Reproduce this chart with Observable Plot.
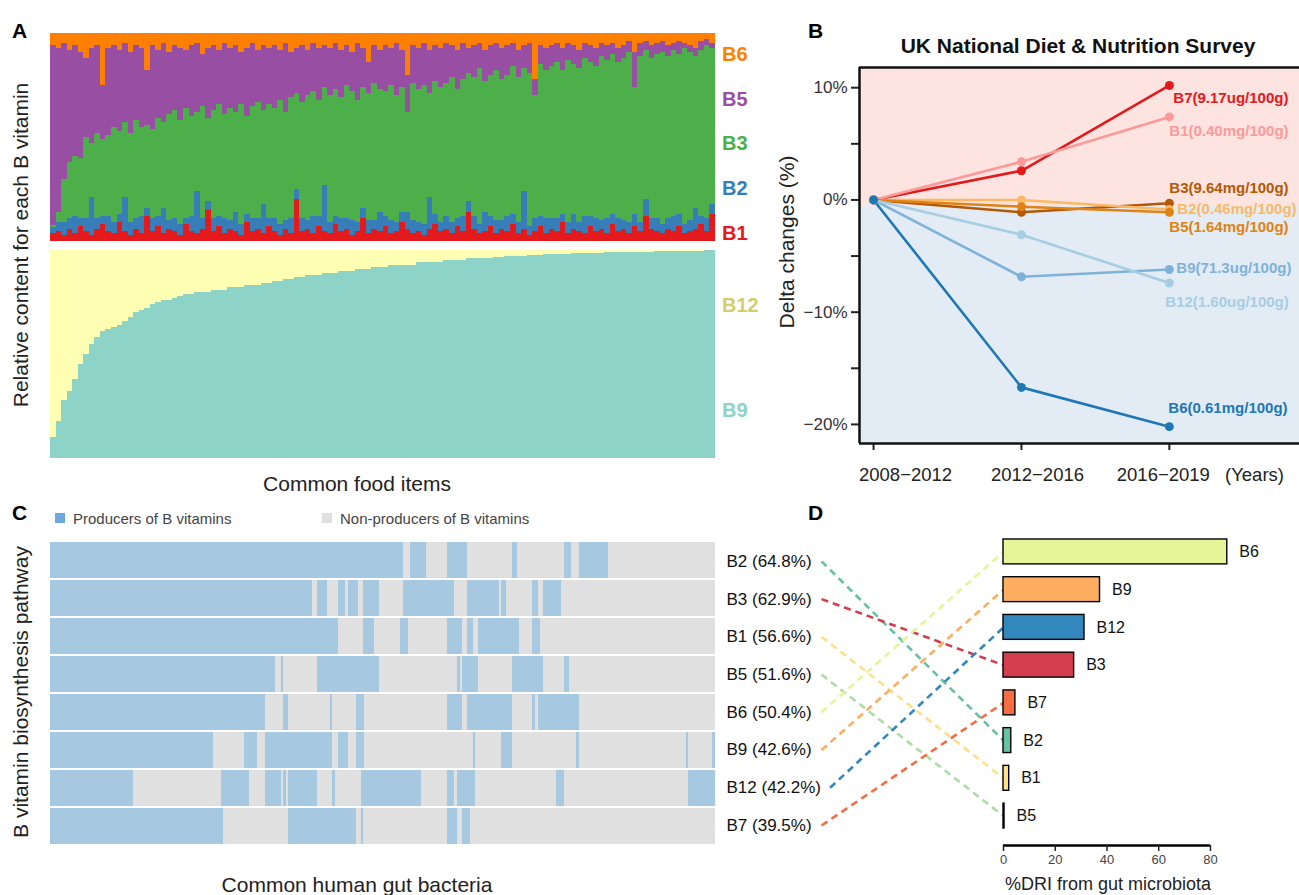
<!DOCTYPE html>
<html><head><meta charset="utf-8">
<script src="https://cdn.jsdelivr.net/npm/d3@7"></script>
<script src="https://cdn.jsdelivr.net/npm/@observablehq/plot@0.6"></script>
<style>
html,body{margin:0;padding:0;background:#fff;overflow:hidden;}
#fig{position:relative;width:1299px;height:895px;font-family:"Liberation Sans",Arial,sans-serif;color:#222;overflow:hidden;}
.t{position:absolute;white-space:nowrap;line-height:1;}
.ctr{transform:translate(-50%,-50%);}
.lft{transform:translate(0,-50%);}
.rot{transform:translate(-50%,-50%) rotate(-90deg);}
.panel{position:absolute;}
.sq{position:absolute;width:10px;height:10px;}
</style></head><body><div id="fig"></div>
<script>
// ---------------- DATA ----------------
// Panel A (top): relative content of B1, B2, B3, B5, B6 across common food items
const foodB1 = [4,5,3,6,4,7,5,3,6,8, 5,4,9,5,3,6,4,12,5,7, 4,6,5,3,8,5,4,6,15,5, 7,4,6,5,3,9,5,6,4,7, 5,3,6,4,20,5,6,4,7,5, 4,8,5,6,3,5,11,4,6,5, 7,4,5,9,6,4,5,3,6,8, 5,6,4,7,5,14,6,4,5,7, 4,6,5,8,4,6,3,5,7,4, 6,5,9,4,6,5,4,7,5,6, 4,8,5,6,4,7,5,12,6,5, 4,6,5,7,4,5,6,8,5,13];
const foodB2 = [3,4,6,5,8,4,6,18,5,4, 7,5,4,16,6,5,8,4,6,5, 12,4,6,5,3,7,20,5,4,6, 5,7,4,9,5,4,6,5,14,4, 6,5,4,7,5,6,4,8,5,22, 5,4,6,5,7,4,5,6,4,9, 5,6,4,5,8,6,4,5,15,5, 4,6,5,4,7,5,6,4,9,5, 6,4,7,5,5,18,4,6,5,7, 5,6,4,5,7,4,8,5,6,4, 7,5,6,4,5,6,4,8,5,6, 4,5,7,6,4,5,10,4,6,5];
const foodB3 = [1,5,21,27,29,29,39,26,41,37, 39,46,40,36,43,47,43,40,43,47, 41,51,52,50,53,48,38,54,40,52, 54,50,54,48,58,47,54,56,45,55, 53,60,52,58,46,56,60,60,56,47, 61,61,58,64,62,59,58,61,66,59, 60,65,61,60,48,66,64,67,50,64, 65,64,70,62,66,62,67,75,63,68, 72,68,68,71,70,59,74,59,73,71, 73,75,69,78,72,74,76,74,73,79, 76,77,75,78,82,61,80,72,77,79, 83,78,80,77,85,81,73,80,83,75];
const foodB5 = [88,79,65,54,53,51,38,46,42,26, 42,39,39,38,39,36,38,26,40,33, 38,30,31,35,28,34,33,25,34,31, 26,34,29,32,25,33,30,25,31,27, 30,24,33,22,22,27,22,23,25,20, 23,22,23,19,19,27,19,15,18,19, 22,18,25,18,18,18,20,20,21,17, 19,19,15,19,17,12,15,12,15,14, 13,15,14,11,13,11,14,8,9,11, 10,9,11,8,9,9,7,8,9,6, 7,5,7,6,5,17,6,4,6,5, 5,5,3,6,2,3,4,4,3,2];
const foodB6 = [6,7,5,8,6,9,12,7,6,25, 7,6,8,5,9,6,7,18,6,8, 5,9,6,7,8,6,5,10,7,6, 8,5,7,6,9,7,5,8,6,7, 6,8,5,9,7,6,8,5,7,6, 7,5,8,6,9,5,7,14,6,8, 6,7,5,8,20,6,7,5,8,6, 7,5,6,8,5,7,6,5,8,6, 5,7,6,5,8,6,5,22,6,7, 6,5,7,5,6,8,5,6,7,5, 6,5,7,6,4,9,5,4,6,5, 4,6,5,4,5,6,7,4,3,5];
// Panel A (bottom): relative content of B9 and B12
const foodB9 = [10,18,28,32,38,45,50,55,58,61, 62,63,64,66,68,70,71,72,74,75, 76,76,77,78,79,79,80,80,80,81, 81,81,82,82,82,83,83,83,84,84, 85,85,86,86,87,87,88,88,88,89, 89,89,90,90,90,91,91,91,92,92, 92,93,93,93,93,93,94,94,94,94, 94,95,95,95,95,96,96,96,96,96, 96.5,96.5,97,97,97,97,97.5,97.5,97.5,98, 98,98,98,98,98.5,98.5,98.5,98.5,98.5,98.5, 99,99,99,99,99,99,99,99,99,99.5, 99.5,99.5,99.5,99.5,99.5,99.5,99.5,99.5,100,100];
const foodB12 = [90,82,72,68,62,55,50,45,42,39, 38,37,36,34,32,30,29,28,26,25, 24,24,23,22,21,21,20,20,20,19, 19,19,18,18,18,17,17,17,16,16, 15,15,14,14,13,13,12,12,12,11, 11,11,10,10,10,9,9,9,8,8, 8,7,7,7,7,7,6,6,6,6, 6,5,5,5,5,4,4,4,4,4, 3.5,3.5,3,3,3,3,2.5,2.5,2.5,2, 2,2,2,2,1.5,1.5,1.5,1.5,1.5,1.5, 1,1,1,1,1,1,1,1,1,0.5, 0.5,0.5,0.5,0.5,0.5,0.5,0.5,0.5,0,0];

// Panel B: UK NDNS delta changes (%)
const periods = ["2008−2012","2012−2016","2016−2019"];
const ndnsVits = ["B7","B1","B3","B2","B5","B9","B12","B6"];
const ndnsLabels = ["B7(9.17ug/100g)","B1(0.40mg/100g)","B3(9.64mg/100g)","B2(0.46mg/100g)","B5(1.64mg/100g)","B9(71.3ug/100g)","B12(1.60ug/100g)","B6(0.61mg/100g)"];
const deltaB7  = [0, 2.6, 10.2];
const deltaB1  = [0, 3.4, 7.4];
const deltaB3  = [0, -1.1, -0.3];
const deltaB2  = [0, 0.0, -0.85];
const deltaB5  = [0, -0.6, -1.1];
const deltaB9  = [0, -6.85, -6.2];
const deltaB12 = [0, -3.1, -7.4];
const deltaB6  = [0, -16.7, -20.2];

// Panel C: producers of B vitamins among common gut bacteria (runs, % of bacteria)
const pathRows = ["B2","B3","B1","B5","B6","B9","B12","B7"];
const producerPct = [64.8, 62.9, 56.6, 51.6, 50.4, 42.6, 42.2, 39.5];
const runsB2 = [[0,53.1],[54.1,56.5],[59.7,62.7],[69.5,70.2],[77.3,78.4],[79.6,83.9]];
const runsB3 = [[0,39.4],[40.2,41.7],[43.3,44.4],[44.8,46.3],[47.1,49.5],[53.1,60.8],[62.7,67.5],[67.8,68.6],[72.5,73.4],[74.1,76.8]];
const runsB1 = [[0,43.3],[47.1,48.7],[52.6,53.8],[59.7,62.0],[62.7,63.6],[64.4,70.5],[72.5,73.7]];
const runsB5 = [[0,33.8],[34.7,35.0],[40.2,49.5],[61.2,61.7],[62.0,64.4],[69.5,74.1],[77.3,78.1]];
const runsB6 = [[0,32.3],[35.0,35.8],[42.1,42.4],[46.0,47.2],[59.7,62.0],[62.7,69.5],[72.5,72.9],[73.4,79.6]];
const runsB9 = [[0,24.5],[29.2,31.1],[32.3,42.4],[43.3,44.8],[46.0,47.2],[63.6,63.9],[67.8,69.5],[79.1,79.6],[95.6,95.9],[99.5,100]];
const runsB12 = [[0,12.5],[25.7,29.9],[32.3,34.7],[35.0,35.5],[35.8,40.2],[42.4,42.9],[46.8,55.8],[59.7,60.8],[61.2,63.9],[76.1,77.3],[95.9,100]];
const runsB7 = [[0,26.0],[35.8,46.0],[46.8,47.1],[59.7,61.2],[62.0,63.2]];

// Panel D: %DRI from gut microbiota
const driVits = ["B6","B9","B12","B3","B7","B2","B1","B5"];
const driValues = [86.5, 37.3, 31.3, 27.3, 4.6, 3.0, 2.2, 0.4];

// ---------------- HELPERS ----------------
const fig = document.getElementById("fig");
function txt(s, x, y, cls, css) {
  const d = document.createElement("div");
  d.className = "t " + cls; d.textContent = s;
  d.style.left = x + "px"; d.style.top = y + "px";
  Object.assign(d.style, css || {});
  fig.appendChild(d); return d;
}
function place(svg, x, y) {
  const w = document.createElement("div");
  w.className = "panel"; w.style.left = x + "px"; w.style.top = y + "px";
  w.appendChild(svg); fig.appendChild(w);
}
const baseStyle = {fontFamily: "'Liberation Sans', Arial, sans-serif", background: "transparent", color: "#222"};

// ---------------- PANEL A ----------------
const foodIdx = d3.range(foodB1.length);
const vitA = ["B1","B2","B3","B5","B6"];
const colA = ["#e41a1c","#377eb8","#4daf4a","#984ea3","#ff7f00"];
const seriesA = [foodB1, foodB2, foodB3, foodB5, foodB6];
const tableA = vitA.flatMap((v,k) => seriesA[k].map((val,i) => ({item:i, vit:v, val})));
place(Plot.plot({
  width: 665, height: 208, marginTop: 0, marginBottom: 0, marginLeft: 0, marginRight: 0,
  style: baseStyle,
  x: {type: "band", domain: foodIdx, padding: 0, axis: null},
  y: {axis: null, domain: [0, 1]},
  color: {domain: vitA, range: colA},
  marks: [Plot.barY(tableA, {x: "item", y: "val", fill: "vit", order: vitA, offset: "normalize", shapeRendering: "crispEdges"})]
}), 50, 33);

const vitA2 = ["B9","B12"];
const tableA2 = vitA2.flatMap((v,k) => [foodB9, foodB12][k].map((val,i) => ({item:i, vit:v, val})));
place(Plot.plot({
  width: 665, height: 208, marginTop: 0, marginBottom: 0, marginLeft: 0, marginRight: 0,
  style: baseStyle,
  x: {type: "band", domain: foodIdx, padding: 0, axis: null},
  y: {axis: null, domain: [0, 1]},
  color: {domain: vitA2, range: ["#8dd3c7","#ffffb3"]},
  marks: [Plot.barY(tableA2, {x: "item", y: "val", fill: "vit", order: vitA2, offset: "normalize", shapeRendering: "crispEdges"})]
}), 50, 250);

txt("A", 12, 30, "lft", {fontWeight: "bold", fontSize: "21px", color: "#000"});
txt("Relative content for each B vitamin", 20, 245, "rot", {fontSize: "21px"});
txt("Common food items", 357, 483, "ctr", {fontSize: "21px"});
const labA = [["B6",54,"#ff7f00"],["B5",99,"#984ea3"],["B3",143,"#4daf4a"],["B2",188,"#377eb8"],["B1",233,"#e41a1c"],["B12",305,"#d6cc6a"],["B9",410,"#8dd3c7"]];
labA.forEach(([s,y,c]) => txt(s, 722, y, "lft", {fontWeight: "bold", fontSize: "20px", color: c}));

// ---------------- PANEL B ----------------
const ndnsSeries = [deltaB7, deltaB1, deltaB3, deltaB2, deltaB5, deltaB9, deltaB12, deltaB6];
const ndnsColors = ["#e31a1c","#fb9a99","#b35806","#fdb863","#e08214","#7fb2d9","#a6cee3","#1f78b4"];
const tableB = ndnsVits.flatMap((v,k) => ndnsSeries[k].map((val,t) => ({t, vit:v, val, label: ndnsLabels[k]})));
const lastB = tableB.filter(d => d.t === 2);
const nudge = {B7:[4,13], B1:[0,14], B3:[0,-15], B2:[8,0], B5:[0,15], B9:[7,-1], B12:[-4,19], B6:[-1,-18]};
const XL = -0.095, XR = 2.88, YT = 11.8, YB = -21.7, SPLIT = -0.6;
const pxB = 440 / (XR - XL);
const periodShift = [32, 16, -6];
place(Plot.plot({
  width: 509, height: 440, marginLeft: 69, marginRight: 0, marginTop: 7, marginBottom: 57,
  style: {...baseStyle, fontSize: "17px"},
  x: {domain: [XL, XR], axis: null},
  y: {domain: [YB, YT], axis: null},
  color: {domain: ndnsVits, range: ndnsColors},
  marks: [
    Plot.rect([0], {x1: XL, x2: XR, y1: SPLIT, y2: YT, fill: "#fde4e1"}),
    Plot.rect([0], {x1: XL, x2: XR, y1: YB, y2: SPLIT, fill: "#e3ecf4"}),
    Plot.axisY({ticks: [-20,-15,-10,-5,0,5,10], tickSize: 8, tickPadding: 4, strokeWidth: 2,
      tickFormat: d => d % 10 === 0 ? (d < 0 ? "−" + (-d) : d) + "%" : "", fontSize: 17, fill: "#333", label: null}),
    Plot.axisX({ticks: [0,1,2], tickSize: 7, strokeWidth: 2, text: null, label: null}),
    Plot.text(periods, {x: (d,i) => i + periodShift[i] / pxB, y: YB, dy: 32, text: d => d, fontSize: 18.5, fill: "#222"}),
    Plot.ruleX([XL], {stroke: "#111", strokeWidth: 2.5}),
    Plot.ruleY([YT, YB], {stroke: "#111", strokeWidth: 2.5}),
    Plot.line(tableB, {x: "t", y: "val", z: "vit", stroke: "vit", strokeWidth: 2.6}),
    Plot.dot(tableB, {x: "t", y: "val", fill: "vit", r: 4.5}),
    ...ndnsVits.map(v => Plot.text(lastB.filter(d => d.vit === v), {
      x: "t", y: "val", text: "label", fill: "vit", textAnchor: "start",
      fontWeight: "bold", fontSize: 15, dx: nudge[v][0], dy: nudge[v][1]}))
  ]
}), 790, 60);

txt("B", 808, 30, "lft", {fontWeight: "bold", fontSize: "21px", color: "#000"});
txt("UK National Diet & Nutrition Survey", 1078, 45, "ctr", {fontWeight: "bold", fontSize: "21px", color: "#111"});
txt("Delta changes (%)", 786, 242, "rot", {fontSize: "21px"});
txt("(Years)", 1225, 475, "lft", {fontSize: "18.5px"});

// ---------------- PANEL C ----------------
const runsAll = [runsB2, runsB3, runsB1, runsB5, runsB6, runsB9, runsB12, runsB7];
const tableC = pathRows.flatMap((r,k) => runsAll[k].map(([s,e]) => ({row: r, start: s, end: e})));
place(Plot.plot({
  width: 665, height: 302, marginTop: 0, marginBottom: 0, marginLeft: 0, marginRight: 0,
  style: baseStyle,
  x: {domain: [0, 100], axis: null},
  y: {type: "band", domain: pathRows, paddingInner: 0.055, paddingOuter: 0, axis: null},
  marks: [
    Plot.barX(pathRows, {y: d => d, x1: 0, x2: 100, fill: "#e0e0e0"}),
    Plot.barX(tableC, {y: "row", x1: "start", x2: "end", fill: "#a7c8e1", shapeRendering: "crispEdges"})
  ]
}), 50, 542);

txt("C", 12, 512, "lft", {fontWeight: "bold", fontSize: "21px", color: "#000"});
const sq1 = document.createElement("div"); sq1.className = "sq"; sq1.style.cssText += "left:55px;top:513px;background:#6fa8dc;"; fig.appendChild(sq1);
const sq2 = document.createElement("div"); sq2.className = "sq"; sq2.style.cssText += "left:322px;top:513px;background:#e0e0e0;"; fig.appendChild(sq2);
txt("Producers of B vitamins", 73, 518, "lft", {fontSize: "15px", color: "#444"});
txt("Non-producers of B vitamins", 340, 518, "lft", {fontSize: "15px", color: "#444"});
txt("B vitamin biosynthesis pathway", 20, 692, "rot", {fontSize: "21px"});
txt("Common human gut bacteria", 357, 884, "ctr", {fontSize: "21px"});

// ---------------- PANEL D ----------------
const spectralVits = ["B6","B9","B12","B3","B7","B2","B1","B5"];
const spectralCols = ["#e6f598","#fdae61","#3288bd","#d53e4f","#f46d43","#66c2a5","#fee08b","#abdda4"];
const pxU = 579 / 223.8;                 // pixels per %DRI unit
const toU = px => (px - 1003) / pxU;     // page x -> data x
const rowLabel = (d,i) => `${d} (${producerPct[i]}%)`;
const YD = 8.03;
place(Plot.plot({
  width: 579, height: 395, marginLeft: 0, marginRight: 0, marginTop: 42, marginBottom: 50,
  style: baseStyle,
  x: {domain: [toU(720), toU(1299)], axis: null},
  y: {domain: [0, YD], reverse: true, axis: null},
  color: {domain: spectralVits, range: spectralCols},
  marks: [
    Plot.link(pathRows, {
      x1: (d,i) => toU(726 + rowLabel(d,i).length * 8.6 + 9), y1: (d,i) => i + 0.5,
      x2: 0, y2: d => driVits.indexOf(d) + 0.25,
      stroke: d => d, strokeWidth: 2.6, strokeDasharray: "7,5"}),
    Plot.text(pathRows, {x: toU(726), y: (d,i) => i + 0.5, text: rowLabel, textAnchor: "start", fontSize: 17, fill: "#111"}),
    Plot.rect(driVits, {x1: 0, x2: (d,i) => driValues[i], y1: (d,i) => i + 0.25 - 0.33, y2: (d,i) => i + 0.25 + 0.33,
      fill: d => d, stroke: "#000", strokeWidth: 1.4}),
    Plot.text(driVits, {x: (d,i) => driValues[i], y: (d,i) => i + 0.25, text: d => d, dx: 12, textAnchor: "start", fontSize: 16, fill: "#111"}),
    Plot.ruleY([YD], {x1: 0, x2: 80, stroke: "#000", strokeWidth: 2.5}),
    Plot.axisX({ticks: [0,20,40,60,80], tickSize: 6, tickPadding: 3, strokeWidth: 1.5, fontSize: 13, fill: "#444", label: null})
  ]
}), 720, 500);

txt("D", 808, 512, "lft", {fontWeight: "bold", fontSize: "21px", color: "#000"});
txt("%DRI from gut microbiota", 1108, 884, "ctr", {fontSize: "18px"});
</script></body></html>
